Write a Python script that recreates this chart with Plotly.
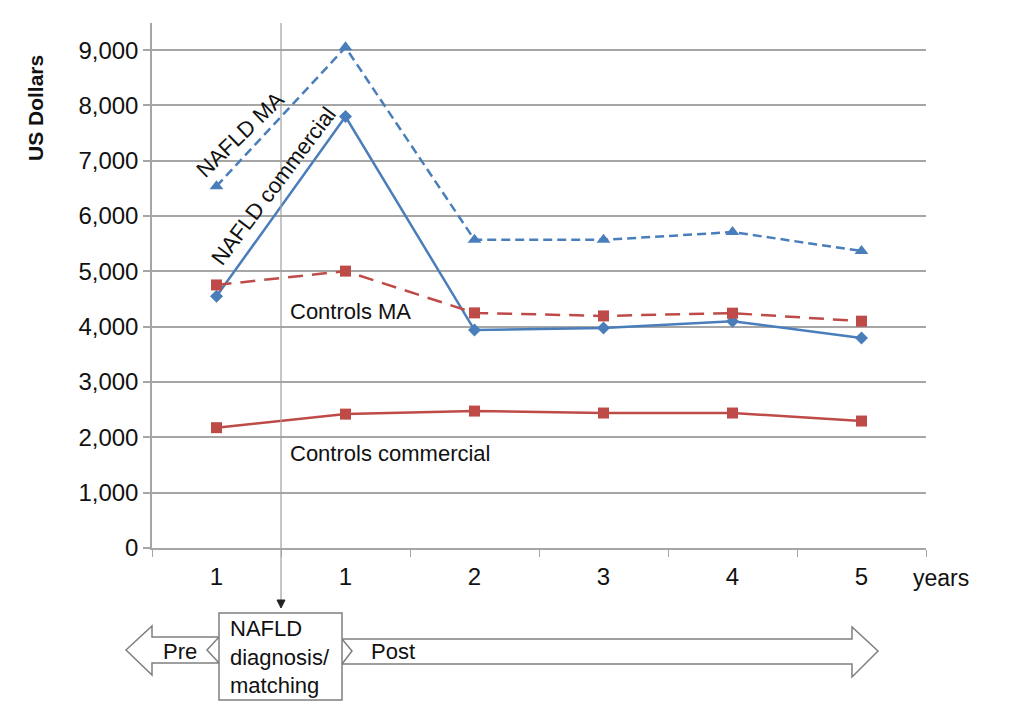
import plotly.graph_objects as go

# ---- data ----
periods = [0, 1, 2, 3, 4, 5]
period_labels = ["1", "1", "2", "3", "4", "5"]
nafld_ma = [6540, 9050, 5570, 5570, 5710, 5370]
nafld_commercial = [4550, 7800, 3940, 3975, 4100, 3795]
controls_ma = [4755, 5005, 4250, 4195, 4245, 4100]
controls_commercial = [2175, 2420, 2475, 2440, 2440, 2295]

BLUE = "#4a7ebb"
RED = "#be4b48"
GRID = "#a6a6a6"
FONT = "Liberation Sans, Arial, sans-serif"

# figure geometry (pixels)
W, H = 1026, 724
L, R, T, B = 152, 100, 23, 176
PW, PH = W - L - R, H - T - B


def px(x):
    return (x - L) / PW


def py(y):
    return (H - B - y) / PH


fig = go.Figure()
fig.add_trace(go.Scatter(x=periods, y=nafld_ma, mode="lines+markers", name="NAFLD MA",
                         line=dict(color=BLUE, width=2.5, dash="9px,5px"),
                         marker=dict(symbol="triangle-up", size=12, color=BLUE)))
fig.add_trace(go.Scatter(x=periods, y=nafld_commercial, mode="lines+markers", name="NAFLD commercial",
                         line=dict(color=BLUE, width=2.5),
                         marker=dict(symbol="diamond", size=10, color=BLUE)))
fig.add_trace(go.Scatter(x=periods, y=controls_ma, mode="lines+markers", name="Controls MA",
                         line=dict(color=RED, width=2.5, dash="15px,9px"),
                         marker=dict(symbol="square", size=11, color=RED)))
fig.add_trace(go.Scatter(x=periods, y=controls_commercial, mode="lines+markers", name="Controls commercial",
                         line=dict(color=RED, width=2.5),
                         marker=dict(symbol="square", size=11, color=RED)))

shapes = []
# vertical marker line between pre and post with arrowhead
shapes.append(dict(type="line", xref="x", yref="paper", x0=0.5, x1=0.5, y0=1, y1=py(603),
                   line=dict(color="#a0a0a0", width=1.2)))
shapes.append(dict(type="path", xref="paper", yref="paper",
                   path=f"M {px(277)} {py(600)} L {px(285)} {py(600)} L {px(281)} {py(608)} Z",
                   fillcolor="#222", line=dict(color="#222", width=1)))
# Pre arrow (left pointing, notched tail)
pre_pts = [(219, 637), (152, 637), (152, 626), (126, 650), (152, 675), (152, 663), (219, 663), (207, 650)]
shapes.append(dict(type="path", xref="paper", yref="paper",
                   path="M " + " L ".join(f"{px(a)} {py(b)}" for a, b in pre_pts) + " Z",
                   fillcolor="white", line=dict(color="#7f7f7f", width=1.5)))
# Post arrow (right pointing, notched tail)
post_pts = [(342, 639), (852, 639), (852, 627), (878, 651), (852, 677), (852, 664), (342, 664), (352, 651)]
shapes.append(dict(type="path", xref="paper", yref="paper",
                   path="M " + " L ".join(f"{px(a)} {py(b)}" for a, b in post_pts) + " Z",
                   fillcolor="white", line=dict(color="#7f7f7f", width=1.5)))
# diagnosis box
shapes.append(dict(type="rect", xref="paper", yref="paper", x0=px(219), x1=px(342), y0=py(700), y1=py(613),
                   fillcolor="white", line=dict(color="#7f7f7f", width=1.5)))

ann = []


def text(s, x, y, xanchor="left", angle=0, size=22, bold=False):
    ann.append(dict(text=("<b>%s</b>" % s) if bold else s, x=px(x), y=py(y), xref="paper", yref="paper",
                    showarrow=False, xanchor=xanchor, yanchor="middle", textangle=angle,
                    font=dict(family=FONT, size=size, color="#111")))


text("NAFLD MA", 240, 134, xanchor="center", angle=-44)
text("NAFLD commercial", 273, 186, xanchor="center", angle=-53)
text("Controls MA", 288, 311)
text("Controls commercial", 288, 453)
text("years", 911, 578, size=23)
text("US Dollars", 36, 108, xanchor="center", angle=-90, size=21, bold=True)
text("Pre", 161, 651)
text("Post", 369, 651)
ann.append(dict(text="NAFLD<br>diagnosis/<br>matching", x=px(228), y=py(657), xref="paper", yref="paper",
                showarrow=False, xanchor="left", yanchor="middle", align="left",
                font=dict(family=FONT, size=22, color="#111")))

fig.update_layout(
    width=W, height=H,
    margin=dict(l=L, r=R, t=T, b=B),
    paper_bgcolor="white", plot_bgcolor="white",
    showlegend=False,
    shapes=shapes, annotations=ann,
    font=dict(family=FONT, size=24, color="#111"),
)
fig.update_xaxes(range=[-0.5, 5.5], tickvals=periods, ticktext=period_labels, ticks="",
                 showgrid=False, zeroline=False, showline=True, linecolor=GRID, linewidth=1.5,
                 tickfont=dict(size=24), ticklabelstandoff=6,
                 minor=dict(tick0=-0.5, dtick=1, ticks="outside", ticklen=7, tickcolor=GRID, showgrid=False))
fig.update_yaxes(range=[0, 9490], tickvals=[i * 1000 for i in range(10)], tickformat=",d",
                 ticks="outside", ticklen=7, tickcolor=GRID, tickwidth=1.5,
                 showgrid=True, gridcolor=GRID, gridwidth=1.5, zeroline=False,
                 showline=True, linecolor=GRID, linewidth=1.5, tickfont=dict(size=24))

fig.write_html("out.html", config={"displayModeBar": False},
               post_script="document.body.style.margin='0';document.body.style.overflow='hidden';")
